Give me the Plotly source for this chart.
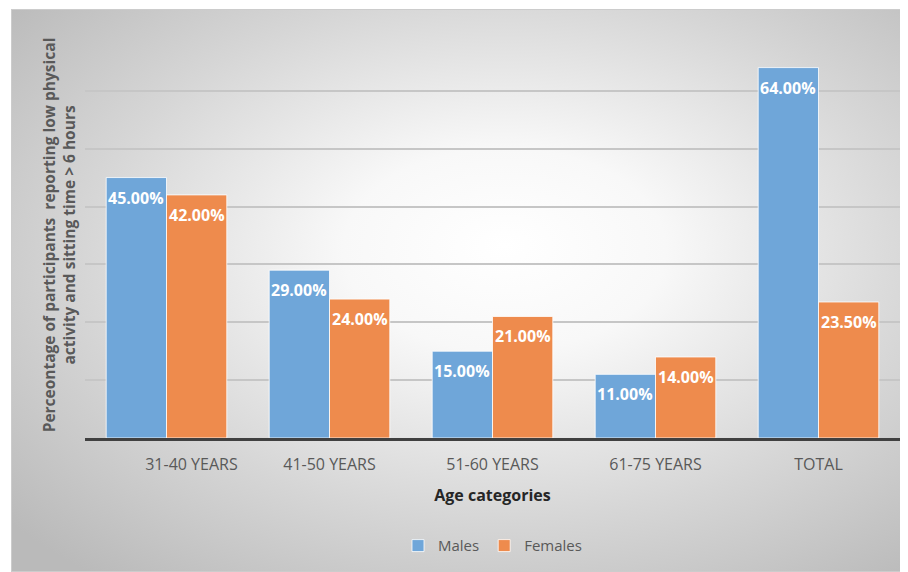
import base64
import plotly.graph_objects as go

categories = ["\u00a0" * 12 + "31-40 YEARS", "41-50 YEARS", "51-60 YEARS", "61-75 YEARS", "TOTAL"]
males = [45.0, 29.0, 15.0, 11.0, 64.0]
females = [42.0, 24.0, 21.0, 14.0, 23.5]

BLUE = "rgb(111,166,217)"
ORANGE = "rgb(238,139,77)"

# page body has an 8px margin, so the figure is 8px smaller than the window
W, H = 900, 564
L, R, T, B = 77, 8, 24, 134
pw, ph = W - L - R, H - T - B
FX, FY = 3, 1  # frame origin in figure px
fw, fh = W - FX, H - FY

svg = f'''<svg xmlns="http://www.w3.org/2000/svg" width="{fw}" height="{fh}" preserveAspectRatio="none">
<defs><radialGradient id="g" cx="55%" cy="45%" r="72%" fx="55%" fy="42%">
<stop offset="0%" stop-color="#ffffff"/>
<stop offset="25%" stop-color="#f8f8f8"/>
<stop offset="65%" stop-color="#d6d6d6"/>
<stop offset="100%" stop-color="#bababa"/>
</radialGradient></defs>
<rect x="0" y="0" width="{fw}" height="{fh}" fill="url(#g)" stroke="#cccccc" stroke-width="2"/>
</svg>'''
src = "data:image/svg+xml;base64," + base64.b64encode(svg.encode()).decode()

fig = go.Figure()
fig.add_bar(name="Males", x=categories, y=males,
            marker=dict(color=BLUE, line=dict(color="rgba(255,255,255,0.8)", width=1)))
fig.add_bar(name="Females", x=categories, y=females,
            marker=dict(color=ORANGE, line=dict(color="rgba(255,255,255,0.8)", width=1)))

ann = []
for i, c in enumerate(categories):
    for v, sh in ((males[i], -30.5), (females[i], 30.5)):
        ann.append(dict(x=c, y=v, xref="x", yref="y", xshift=sh, yshift=-20,
                        text=f"{v:.2f}%", showarrow=False, yanchor="middle",
                        font=dict(family="Open Sans", size=16, color="white", weight="bold")))

fig.update_layout(
    width=W, height=H,
    margin=dict(l=L, r=R, t=T, b=B),
    paper_bgcolor="white",
    plot_bgcolor="rgba(0,0,0,0)",
    barmode="group", bargap=0.26, bargroupgap=0.0,
    font=dict(family="Open Sans", color="#595959"),
    images=[dict(source=src, xref="paper", yref="paper",
                 x=(FX - L) / pw, y=(H - B - FY) / ph,
                 sizex=fw / pw, sizey=fh / ph,
                 xanchor="left", yanchor="top", sizing="stretch", layer="below")],
    annotations=ann,
    showlegend=True,
    legend=dict(orientation="h", x=0.5, xanchor="center", y=-0.225, yanchor="top",
                bgcolor="rgba(0,0,0,0)",
                font=dict(size=15, color="#595959"), itemwidth=30, traceorder="normal"),
)
fig.update_xaxes(showline=True, linecolor="#404040", linewidth=3, ticks="",
                 ticklabelstandoff=10,
                 tickfont=dict(size=16, color="#595959"),
                 title=dict(text="<b>Age categories</b>", font=dict(size=16, color="#262626"), standoff=16))
fig.update_yaxes(range=[0, 70.15], tickvals=[10, 20, 30, 40, 50, 60, 70], showticklabels=False, showgrid=True,
                 gridcolor="#c6c6c6", gridwidth=1.5, zeroline=False,
                 title=dict(text="<b>Perceontage of participants  reporting low physical<br>activity and sitting time > 6 hours</b>",
                            font=dict(size=15.5, color="#595959"), standoff=4))

fig.write_html("out.html")
